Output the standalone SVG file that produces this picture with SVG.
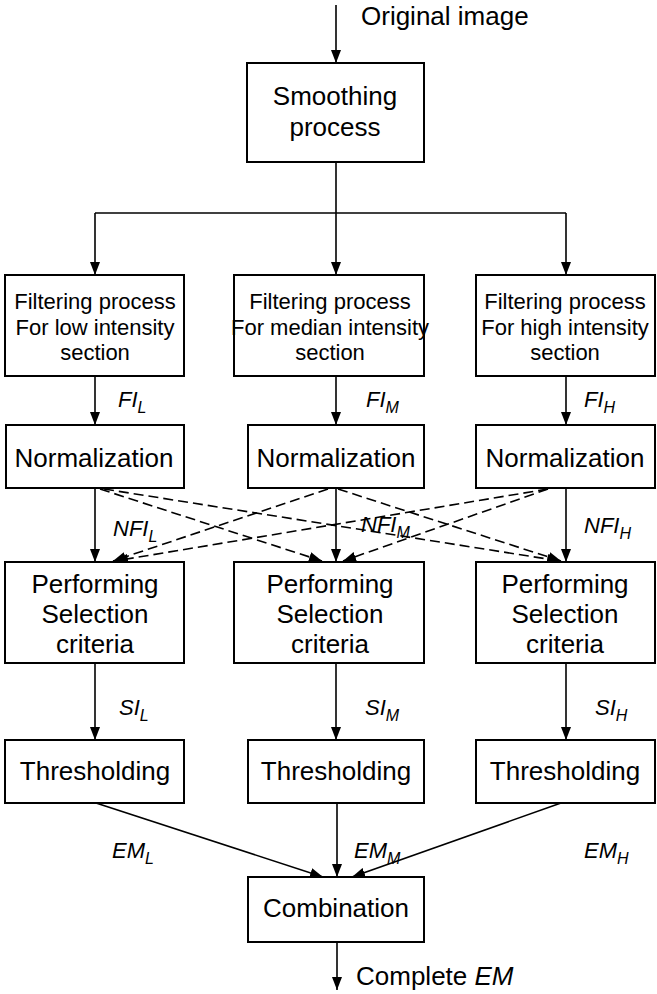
<svg xmlns="http://www.w3.org/2000/svg" width="657" height="994" viewBox="0 0 657 994">
<style>
.box{fill:#fff;stroke:#000;stroke-width:2}
.t{font-family:"Liberation Sans",Arial,sans-serif;font-size:26px;fill:#000;text-anchor:middle}
.f{font-family:"Liberation Sans",Arial,sans-serif;font-size:22px;fill:#000;text-anchor:middle}
.lab{font-family:"Liberation Sans",Arial,sans-serif;font-size:22px;font-style:italic;fill:#000}
.sub{font-size:16px}
.c{stroke:#000;stroke-width:1.6;fill:none}
.d{stroke:#000;stroke-width:1.6;fill:none;stroke-dasharray:10 5}
</style>
<defs>
<marker id="ah" viewBox="0 0 13 10" refX="13" refY="5" markerWidth="13" markerHeight="10" markerUnits="userSpaceOnUse" orient="auto"><path d="M0,0 L13,5 L0,10 z" fill="#000"/></marker>
</defs>
<g id="connectors">
<line class="c" x1="336" y1="5" x2="336" y2="63" marker-end="url(#ah)"/>
<polyline class="c" points="336,162 336,213"/>
<polyline class="c" points="95,213 566,213"/>
<line class="c" x1="95" y1="213" x2="95" y2="275" marker-end="url(#ah)"/>
<line class="c" x1="336" y1="213" x2="336" y2="275" marker-end="url(#ah)"/>
<line class="c" x1="566" y1="213" x2="566" y2="275" marker-end="url(#ah)"/>
<line class="c" x1="95" y1="376" x2="95" y2="425" marker-end="url(#ah)"/>
<line class="c" x1="336" y1="376" x2="336" y2="425" marker-end="url(#ah)"/>
<line class="c" x1="566" y1="376" x2="566" y2="425" marker-end="url(#ah)"/>
<line class="c" x1="95" y1="488" x2="95" y2="562" marker-end="url(#ah)"/>
<line class="c" x1="336" y1="488" x2="336" y2="562" marker-end="url(#ah)"/>
<line class="c" x1="566" y1="488" x2="566" y2="562" marker-end="url(#ah)"/>
<line class="d" x1="100" y1="489" x2="322" y2="561" marker-end="url(#ah)"/>
<line class="d" x1="104" y1="489" x2="560" y2="561" marker-end="url(#ah)"/>
<line class="d" x1="328" y1="489" x2="113" y2="561" marker-end="url(#ah)"/>
<line class="d" x1="338" y1="489" x2="561" y2="561" marker-end="url(#ah)"/>
<line class="d" x1="548" y1="489" x2="115" y2="561" marker-end="url(#ah)"/>
<line class="d" x1="548" y1="489" x2="343" y2="561" marker-end="url(#ah)"/>
<line class="c" x1="95" y1="663" x2="95" y2="740" marker-end="url(#ah)"/>
<line class="c" x1="336" y1="663" x2="336" y2="740" marker-end="url(#ah)"/>
<line class="c" x1="566" y1="663" x2="566" y2="740" marker-end="url(#ah)"/>
<line class="c" x1="96" y1="803" x2="323" y2="877" marker-end="url(#ah)"/>
<line class="c" x1="337" y1="803" x2="337" y2="877" marker-end="url(#ah)"/>
<line class="c" x1="561" y1="803" x2="352" y2="877" marker-end="url(#ah)"/>
<line class="c" x1="337" y1="942" x2="337" y2="990" marker-end="url(#ah)"/>
<text class="lab" x="118" y="407">FI<tspan class="sub" dy="6">L</tspan></text>
<text class="lab" x="366" y="407">FI<tspan class="sub" dy="6">M</tspan></text>
<text class="lab" x="584" y="407">FI<tspan class="sub" dy="6">H</tspan></text>
<text class="lab" x="113" y="536">NFI<tspan class="sub" dy="6">L</tspan></text>
<text class="lab" x="361" y="532">NFI<tspan class="sub" dy="6">M</tspan></text>
<text class="lab" x="584" y="533">NFI<tspan class="sub" dy="6">H</tspan></text>
<text class="lab" x="119" y="715">SI<tspan class="sub" dy="6">L</tspan></text>
<text class="lab" x="365" y="715">SI<tspan class="sub" dy="6">M</tspan></text>
<text class="lab" x="595" y="715">SI<tspan class="sub" dy="6">H</tspan></text>
<text class="lab" x="112" y="858">EM<tspan class="sub" dy="6">L</tspan></text>
<text class="lab" x="354" y="858">EM<tspan class="sub" dy="6">M</tspan></text>
<text class="lab" x="584" y="858">EM<tspan class="sub" dy="6">H</tspan></text>
</g>
<text class="t" x="361" y="25" style="text-anchor:start">Original image</text>
<text class="t" x="356" y="985" style="text-anchor:start">Complete <tspan font-style="italic">EM</tspan></text>
<g id="smoothing"><rect class="box" x="247" y="63" width="177" height="99"/><text class="t" x="335" y="105">Smoothing</text><text class="t" x="335" y="136">process</text></g>
<g id="filter-low"><rect class="box" x="5" y="275" width="179" height="101"/><text class="f" x="95" y="309">Filtering process</text><text class="f" x="95" y="335">For low intensity</text><text class="f" x="95" y="360">section</text></g>
<g id="filter-median"><rect class="box" x="234" y="275" width="190" height="101"/><text class="f" x="330" y="309">Filtering process</text><text class="f" x="330" y="335">For median intensity</text><text class="f" x="330" y="360">section</text></g>
<g id="filter-high"><rect class="box" x="476" y="275" width="179" height="101"/><text class="f" x="565" y="309">Filtering process</text><text class="f" x="565" y="335">For high intensity</text><text class="f" x="565" y="360">section</text></g>
<g id="norm-low"><rect class="box" x="6" y="425" width="178" height="63"/><text class="t" x="94" y="467">Normalization</text></g>
<g id="norm-median"><rect class="box" x="248" y="425" width="176" height="63"/><text class="t" x="336" y="467">Normalization</text></g>
<g id="norm-high"><rect class="box" x="476" y="425" width="179" height="63"/><text class="t" x="565" y="467">Normalization</text></g>
<g id="perf-low"><rect class="box" x="5" y="562" width="179" height="101"/><text class="t" x="95" y="593">Performing</text><text class="t" x="95" y="623">Selection</text><text class="t" x="95" y="653">criteria</text></g>
<g id="perf-median"><rect class="box" x="234" y="562" width="190" height="101"/><text class="t" x="330" y="593">Performing</text><text class="t" x="330" y="623">Selection</text><text class="t" x="330" y="653">criteria</text></g>
<g id="perf-high"><rect class="box" x="476" y="562" width="179" height="101"/><text class="t" x="565" y="593">Performing</text><text class="t" x="565" y="623">Selection</text><text class="t" x="565" y="653">criteria</text></g>
<g id="thresh-low"><rect class="box" x="5" y="740" width="179" height="63"/><text class="t" x="95" y="780">Thresholding</text></g>
<g id="thresh-median"><rect class="box" x="248" y="740" width="176" height="63"/><text class="t" x="336" y="780">Thresholding</text></g>
<g id="thresh-high"><rect class="box" x="476" y="740" width="179" height="63"/><text class="t" x="565" y="780">Thresholding</text></g>
<g id="combination"><rect class="box" x="248" y="877" width="176" height="65"/><text class="t" x="336" y="917">Combination</text></g>
</svg>
